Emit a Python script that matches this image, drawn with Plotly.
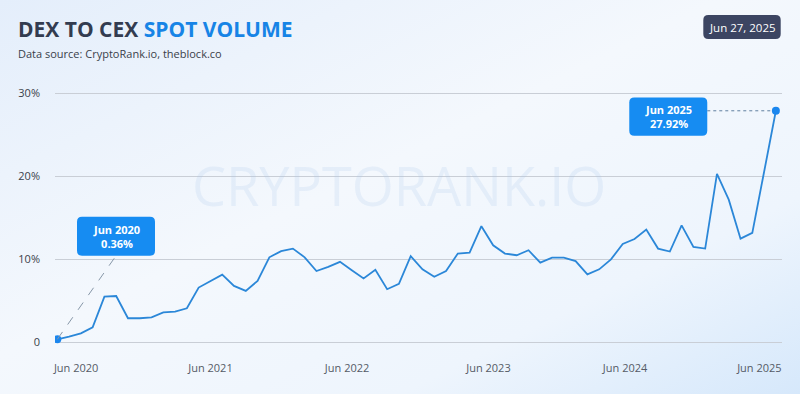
import base64
import plotly.graph_objects as go

# ---------------- data ----------------
share_pct = [0.36, 0.67, 1.08, 1.8, 5.5, 5.58, 2.9, 2.9, 3.0, 3.6,
             3.7, 4.1, 6.6, 7.4, 8.15, 6.8, 6.2, 7.4, 10.25, 11.0,
             11.3, 10.25, 8.6, 9.1, 9.7, 8.7, 7.7, 8.75, 6.4, 7.05,
             10.4, 8.8, 7.9, 8.6, 10.7, 10.8, 14.0, 11.7, 10.7, 10.5,
             11.1, 9.6, 10.2, 10.2, 9.8, 8.2, 8.8, 10.0, 11.85, 12.45,
             13.6, 11.3, 10.95, 14.1, 11.5, 11.3, 20.3, 17.2, 12.5, 13.2,
             20.6, 27.92]
month_idx = list(range(len(share_pct)))
tick_labels = ["Jun 2020", "Jun 2021", "Jun 2022", "Jun 2023", "Jun 2024", "Jun 2025"]
tick_pos = [1.6, 13.0, 24.6, 36.6, 48.2, 59.6]
y_ticks = [0, 10, 20, 30]
y_tick_text = ["0", "10%", "20%", "30%"]
first_label = "Jun 2020<br>0.36%"
last_label = "Jun 2025<br>27.92%"
title_dark = "DEX TO CEX "
title_blue = "SPOT VOLUME"
subtitle = "Data source: CryptoRank.io, theblock.co"
date_badge = "Jun 27, 2025"
watermark = "CRYPTORANK.IO"

# ---------------- layout geometry ----------------
W, H = 800, 394
ML, MR, MT, MB = 55, 18, 85, 44
PW, PH = W - ML - MR, H - MT - MB

def px_x(px):
    return (px - ML) / PW

def px_y(py):
    return (H - MB - py) / PH

def rounded(x0, y0, x1, y1, r):
    # y-up pixel offsets, x0<x1, y0<y1
    return (f"M{x0 + r},{y0} L{x1 - r},{y0} Q{x1},{y0} {x1},{y0 + r} "
            f"L{x1},{y1 - r} Q{x1},{y1} {x1 - r},{y1} L{x0 + r},{y1} "
            f"Q{x0},{y1} {x0},{y1 - r} L{x0},{y0 + r} Q{x0},{y0} {x0 + r},{y0} Z")

BLUE_BOX = "#168cf2"
LINE_BLUE = "#2b87d8"
DARK = "#333c50"
FONT = "Open Sans"

# background gradient as svg image
svg = f"""<svg xmlns='http://www.w3.org/2000/svg' width='{W}' height='{H}'>
<defs><linearGradient id='g' x1='0' y1='0' x2='1' y2='1'>
<stop offset='0' stop-color='#e4eefb'/>
<stop offset='0.45' stop-color='#f4f8fd'/>
<stop offset='0.75' stop-color='#eef5fd'/>
<stop offset='1' stop-color='#d6e8fb'/>
</linearGradient></defs>
<rect width='{W}' height='{H}' fill='url(#g)'/></svg>"""
bg_src = "data:image/svg+xml;base64," + base64.b64encode(svg.encode()).decode()

fig = go.Figure()
fig.add_trace(go.Scatter(
    x=month_idx, y=share_pct, mode="lines",
    line=dict(color=LINE_BLUE, width=1.8), hoverinfo="skip", showlegend=False))
fig.add_trace(go.Scatter(
    x=[month_idx[0], month_idx[-1]], y=[share_pct[0], share_pct[-1]], mode="markers",
    marker=dict(color="#1a86ee", size=8), hoverinfo="skip", showlegend=False))

shapes = []
annotations = []

# first-point callout
shapes.append(dict(type="line", xref="x", yref="y", xsizemode="pixel", ysizemode="pixel",
                   xanchor=month_idx[0], yanchor=share_pct[0], x0=0, y0=0, x1=58.7, y1=83.5,
                   line=dict(color="#8797a8", width=1, dash="dash"), layer="above"))
shapes.append(dict(type="path", xref="x", yref="y", xsizemode="pixel", ysizemode="pixel",
                   xanchor=month_idx[0], yanchor=share_pct[0],
                   path=rounded(19.7, 83.5, 97.7, 122.5, 5),
                   fillcolor=BLUE_BOX, line=dict(width=0), layer="above"))
annotations.append(dict(x=month_idx[0], y=share_pct[0], xref="x", yref="y",
                        text="<b>" + first_label + "</b>", showarrow=True,
                        arrowcolor="rgba(0,0,0,0)", ax=58.7, ay=-103,
                        font=dict(family=FONT, size=11, color="white"), align="center"))

# last-point callout
shapes.append(dict(type="line", xref="x", yref="y", xsizemode="pixel", ysizemode="pixel",
                   xanchor=month_idx[-1], yanchor=share_pct[-1], x0=-68.6, y0=0, x1=-3, y1=0,
                   line=dict(color="#5f7f9f", width=1, dash="dot"), layer="above"))
shapes.append(dict(type="path", xref="x", yref="y", xsizemode="pixel", ysizemode="pixel",
                   xanchor=month_idx[-1], yanchor=share_pct[-1],
                   path=rounded(-146.6, -25, -68.6, 13.4, 5),
                   fillcolor=BLUE_BOX, line=dict(width=0), layer="above"))
annotations.append(dict(x=month_idx[-1], y=share_pct[-1], xref="x", yref="y",
                        text="<b>" + last_label + "</b>", showarrow=True,
                        arrowcolor="rgba(0,0,0,0)", ax=-107.6, ay=5.8,
                        font=dict(family=FONT, size=11, color="white"), align="center"))

# date badge
shapes.append(dict(type="path", xref="paper", yref="paper", xsizemode="pixel", ysizemode="pixel",
                   xanchor=px_x(0), yanchor=px_y(H),
                   path=rounded(703.3, H - 39, 780.7, H - 15, 5),
                   fillcolor="#3c4562", line=dict(width=0), layer="above"))
annotations.append(dict(x=px_x(742), y=px_y(27), xref="paper", yref="paper",
                        text=date_badge, showarrow=False, xanchor="center", yanchor="middle",
                        font=dict(family=FONT, size=11.5, color="white")))

# title & subtitle
annotations.append(dict(x=px_x(16), y=px_y(29), xref="paper", yref="paper",
                        text=f"<b>{title_dark}<span style='color:#1784e6'>{title_blue}</span></b>",
                        showarrow=False, xanchor="left", yanchor="middle",
                        font=dict(family=FONT, size=21, color=DARK)))
annotations.append(dict(x=px_x(16), y=px_y(53), xref="paper", yref="paper",
                        text=subtitle, showarrow=False, xanchor="left", yanchor="middle",
                        font=dict(family=FONT, size=11, color="#3a3f4a")))

# watermark
annotations.append(dict(x=px_x(399), y=px_y(185), xref="paper", yref="paper",
                        text=watermark, showarrow=False, xanchor="center", yanchor="middle",
                        font=dict(family=FONT, size=54, color="rgba(170,200,235,0.2)")))

fig.update_layout(
    width=W, height=H,
    margin=dict(l=ML, r=MR, t=MT, b=MB),
    paper_bgcolor="#eef5fd", plot_bgcolor="rgba(0,0,0,0)",
    images=[dict(source=bg_src, xref="paper", yref="paper", x=px_x(0), y=px_y(0),
                 sizex=W / PW, sizey=H / PH, xanchor="left", yanchor="top",
                 sizing="stretch", layer="below")],
    shapes=shapes, annotations=annotations,
    xaxis=dict(range=[-0.195, 61.52], showgrid=False, zeroline=False, showline=False,
               tickmode="array", tickvals=tick_pos, ticktext=tick_labels,
               ticks="", ticklabelstandoff=10,
               tickfont=dict(family=FONT, size=11, color="#555b66")),
    yaxis=dict(range=[-0.93, 31.03], showgrid=True, gridcolor="#c9ced6", gridwidth=1,
               zeroline=False, showline=False, tickmode="array", tickvals=y_ticks,
               ticktext=y_tick_text, ticks="", ticklabelstandoff=14,
               tickfont=dict(family=FONT, size=11, color="#3a3f4a")),
    hovermode=False,
)
fig.write_html("out.html", config={"displayModeBar": False},
               post_script="document.body.style.margin='0';document.body.style.padding='0';"
                           "document.body.style.overflow='hidden';"
                           "document.body.style.background='#eef5fd';")
